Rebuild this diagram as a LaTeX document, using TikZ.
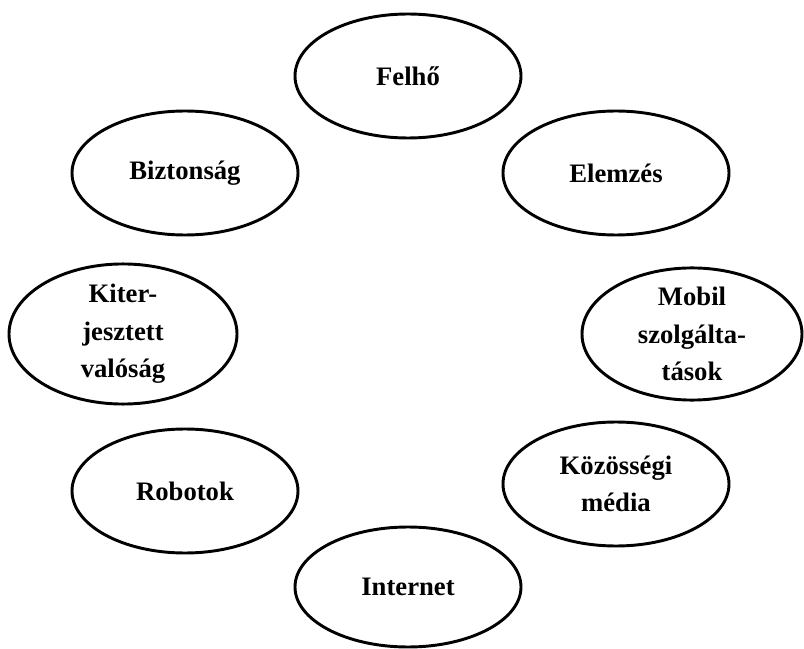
\documentclass[tikz,border=0pt]{standalone}
\usepackage{fontspec}
\setmainfont{Liberation Serif}
\usetikzlibrary{shapes.geometric}
\begin{document}
\begin{tikzpicture}[x=0.75pt,y=-0.75pt,
  topic/.style={ellipse, draw=black, line width=2.2pt, inner sep=0pt,
    minimum width=169.5pt, minimum height=93pt, align=center,
    font=\fontsize{20}{28}\selectfont\bfseries}]
\useasboundingbox (0,0) rectangle (804,649);
\node[topic] (felho) at (408,76) {Felhő};
\node[topic] (elemzes) at (616,173) {Elemzés};
\node[topic] (bizt) at (185,173) {Biztonság};
\node[topic, minimum width=171pt, minimum height=94.5pt] (kiter) at (123,334) {Kiter-\\jesztett\\valóság};
\node[topic, minimum width=165pt, minimum height=94.5pt] (mobil) at (692,334) {Mobil\\szolgálta-\\tások};
\node[topic] (robot) at (185,491) {Robotok};
\node[topic] (kozos) at (616,484) {Közösségi\\média};
\node[topic, minimum height=90pt] (inet) at (408,587) {Internet};
\end{tikzpicture}
\end{document}
